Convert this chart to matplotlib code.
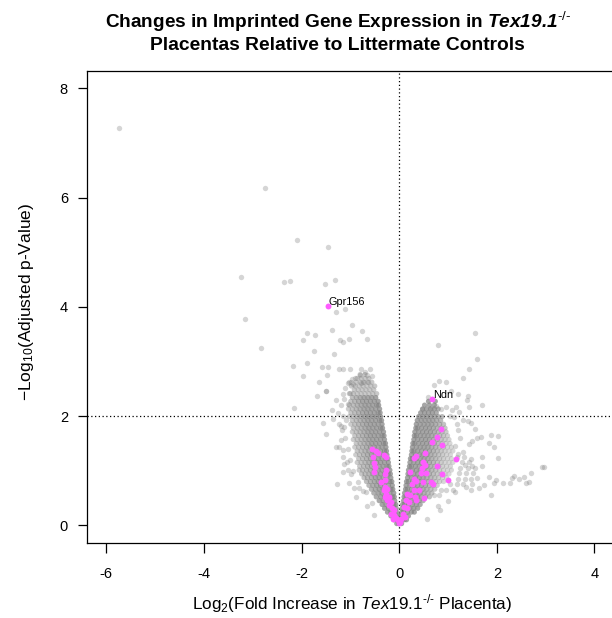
import matplotlib
matplotlib.use("Agg")
import matplotlib.pyplot as plt

plt.rcParams['font.family'] = ['Liberation Sans', 'DejaVu Sans']
plt.rcParams['mathtext.fontset'] = 'custom'
plt.rcParams['mathtext.rm'] = 'Liberation Sans'
plt.rcParams['mathtext.it'] = 'Liberation Sans:italic'
plt.rcParams['mathtext.bf'] = 'Liberation Sans:bold'
plt.rcParams['mathtext.bfit'] = 'Liberation Sans:bold:italic'

# ---------------- data ----------------
# dense V-shaped core, stored as rows: y level and the x positions seen in that row
left_rows_y = [0.03, 0.10, 0.17, 0.24, 0.31, 0.38, 0.45, 0.52, 0.59, 0.66, 0.73, 0.80,
               0.87, 0.94, 1.01, 1.08, 1.15, 1.22, 1.29, 1.36, 1.43, 1.50, 1.57, 1.64,
               1.71, 1.78, 1.85, 1.92, 1.99, 2.06, 2.13, 2.20, 2.27, 2.34, 2.41, 2.48,
               2.55, 2.62, 2.69, 2.76]
left_rows_x = [
    [-0.01, -0.05],
    [-0.02, -0.06, -0.11],
    [-0.03, -0.11, -0.17],
    [-0.05, -0.09, -0.17, -0.24],
    [-0.06, -0.14, -0.22, -0.30],
    [-0.07, -0.11, -0.19, -0.27, -0.35],
    [-0.09, -0.17, -0.25, -0.33, -0.41],
    [-0.10, -0.14, -0.22, -0.30, -0.38, -0.47],
    [-0.11, -0.19, -0.27, -0.35, -0.43, -0.52],
    [-0.13, -0.17, -0.25, -0.33, -0.41, -0.49, -0.57],
    [-0.14, -0.22, -0.30, -0.38, -0.46, -0.54, -0.62],
    [-0.15, -0.19, -0.27, -0.35, -0.43, -0.51, -0.59, -0.67],
    [-0.17, -0.25, -0.33, -0.41, -0.49, -0.57, -0.65, -0.72],
    [-0.18, -0.22, -0.30, -0.38, -0.46, -0.54, -0.62, -0.70, -0.77],
    [-0.19, -0.27, -0.35, -0.43, -0.51, -0.59, -0.67, -0.75, -0.82],
    [-0.21, -0.25, -0.33, -0.41, -0.49, -0.57, -0.65, -0.73, -0.81],
    [-0.22, -0.30, -0.38, -0.46, -0.54, -0.62, -0.70, -0.78, -0.86],
    [-0.23, -0.27, -0.35, -0.43, -0.51, -0.59, -0.67, -0.75, -0.83],
    [-0.25, -0.33, -0.41, -0.49, -0.57, -0.65, -0.73, -0.81, -0.89],
    [-0.26, -0.30, -0.38, -0.46, -0.54, -0.62, -0.70, -0.78, -0.86],
    [-0.27, -0.35, -0.43, -0.51, -0.59, -0.67, -0.75, -0.83, -0.91],
    [-0.28, -0.32, -0.40, -0.48, -0.56, -0.64, -0.72, -0.80, -0.88],
    [-0.30, -0.38, -0.46, -0.54, -0.62, -0.70, -0.78, -0.86, -0.94],
    [-0.31, -0.35, -0.43, -0.51, -0.59, -0.67, -0.75, -0.83, -0.91],
    [-0.32, -0.40, -0.48, -0.56, -0.64, -0.72, -0.80, -0.88, -0.96],
    [-0.34, -0.38, -0.46, -0.54, -0.62, -0.70, -0.78, -0.86, -0.94],
    [-0.35, -0.43, -0.51, -0.59, -0.67, -0.75, -0.83, -0.91, -0.99],
    [-0.36, -0.40, -0.48, -0.56, -0.64, -0.72, -0.80, -0.88, -0.96],
    [-0.38, -0.46, -0.54, -0.62, -0.70, -0.78, -0.86, -0.94, -1.02],
    [-0.39, -0.43, -0.51, -0.59, -0.67, -0.75, -0.83, -0.91, -0.99],
    [-0.40, -0.48, -0.56, -0.64, -0.72, -0.80, -0.88, -0.96, -1.04],
    [-0.42, -0.46, -0.54, -0.62, -0.70, -0.78, -0.86, -0.94, -1.02],
    [-0.43, -0.51, -0.59, -0.67, -0.75, -0.83, -0.91, -0.99],
    [-0.48, -0.56, -0.64, -0.72, -0.80, -0.88, -0.96],
    [-0.46, -0.54, -0.62, -0.70, -0.78, -0.86, -0.94, -1.02],
    [-0.52, -0.60, -0.68, -0.76, -0.84, -0.92],
    [-0.50, -0.58, -0.66, -0.74, -0.82, -0.90, -0.98],
    [-0.56, -0.64, -0.72, -0.80, -0.88],
    [-0.62, -0.70, -0.78, -0.86],
    [-0.70, -0.80],
]
right_rows_y = [0.03, 0.10, 0.17, 0.24, 0.31, 0.38, 0.45, 0.52, 0.59, 0.66, 0.73, 0.80,
                0.87, 0.94, 1.01, 1.08, 1.15, 1.22, 1.29, 1.36, 1.43, 1.50, 1.57, 1.64,
                1.71, 1.78, 1.85, 1.92, 1.99, 2.06, 2.13, 2.20, 2.27]
right_rows_x = [
    [0.01, 0.05],
    [0.02, 0.06, 0.11, 0.15],
    [0.03, 0.11, 0.19],
    [0.05, 0.09, 0.17, 0.25, 0.31],
    [0.06, 0.14, 0.22, 0.30, 0.38],
    [0.07, 0.11, 0.19, 0.27, 0.35, 0.43],
    [0.09, 0.17, 0.25, 0.33, 0.41, 0.49],
    [0.10, 0.14, 0.22, 0.30, 0.38, 0.46, 0.54, 0.62],
    [0.11, 0.19, 0.27, 0.35, 0.43, 0.51, 0.59, 0.67],
    [0.13, 0.17, 0.25, 0.33, 0.41, 0.49, 0.57, 0.65, 0.73],
    [0.14, 0.22, 0.30, 0.38, 0.46, 0.54, 0.62, 0.70, 0.78],
    [0.15, 0.19, 0.27, 0.35, 0.43, 0.51, 0.59, 0.67, 0.75, 0.83, 0.91],
    [0.17, 0.25, 0.33, 0.41, 0.49, 0.57, 0.65, 0.73, 0.81, 0.89, 0.97],
    [0.18, 0.22, 0.30, 0.38, 0.46, 0.54, 0.62, 0.70, 0.78, 0.86, 0.94, 1.02],
    [0.19, 0.27, 0.35, 0.43, 0.51, 0.59, 0.67, 0.75, 0.83, 0.91, 0.99, 1.07],
    [0.21, 0.25, 0.33, 0.41, 0.49, 0.57, 0.65, 0.73, 0.81, 0.89, 0.97, 1.05],
    [0.22, 0.30, 0.38, 0.46, 0.54, 0.62, 0.70, 0.78, 0.86, 0.94, 1.02, 1.10],
    [0.23, 0.27, 0.35, 0.43, 0.51, 0.59, 0.67, 0.75, 0.83, 0.91, 0.99, 1.07],
    [0.25, 0.33, 0.41, 0.49, 0.57, 0.65, 0.73, 0.81, 0.89, 0.97, 1.05],
    [0.26, 0.30, 0.38, 0.46, 0.54, 0.62, 0.70, 0.78, 0.86, 0.94, 1.02, 1.10],
    [0.27, 0.35, 0.43, 0.51, 0.59, 0.67, 0.75, 0.83, 0.91, 0.99, 1.07],
    [0.28, 0.32, 0.40, 0.48, 0.56, 0.64, 0.72, 0.80, 0.88, 0.96, 1.04],
    [0.30, 0.38, 0.46, 0.54, 0.62, 0.70, 0.78, 0.86, 0.94, 1.02],
    [0.31, 0.35, 0.43, 0.51, 0.59, 0.67, 0.75, 0.83, 0.91, 0.99],
    [0.32, 0.40, 0.48, 0.56, 0.64, 0.72, 0.80, 0.88, 0.96],
    [0.34, 0.38, 0.46, 0.54, 0.62, 0.70, 0.78, 0.86, 0.94],
    [0.35, 0.43, 0.51, 0.59, 0.67, 0.75, 0.83, 0.91],
    [0.37, 0.45, 0.53, 0.61, 0.69, 0.77, 0.85],
    [0.40, 0.48, 0.56, 0.64, 0.72, 0.80, 0.88],
    [0.44, 0.52, 0.60, 0.68, 0.76],
    [0.48, 0.56, 0.64, 0.72, 0.80],
    [0.52, 0.62, 0.72],
    [0.60, 0.74],
]

# scattered (isolated) gray genes
sparse_x = [-5.73, -2.74, -2.09, -1.45, -3.23, -2.36, -2.23, -1.51, -1.31,
            -1.29, -1.11, -3.15, -0.96, -1.37, -0.77, -1.88, -1.73, -1.98, -1.22, -1.15,
            -1.02, -0.65, -2.82, -1.75, -1.33, -2.17, -1.89, -1.96, -1.59, -1.46, -1.47,
            -1.23, -1.15, -1.01, -0.78, -0.60, -1.65, -1.49, -1.68, -2.15,
            -1.02, -0.99, -0.78, -0.63, -1.50, -1.38,
            -1.55, -1.50, -1.23, -1.17, -1.19, -1.23, -1.29, -1.16, -1.12, -1.06, -1.16,
            -0.99, -1.27, -1.02, -0.93, -0.82, -0.89, -0.66, -0.51,
            -0.55, -0.68, -0.75, -0.85, -0.95, -1.05, -1.00, -1.05, -1.15, -1.10, -1.12,
            -1.20, -1.15, -1.20, -1.05, -1.15, -1.00, -1.05, -0.95, -0.75, -0.65, -0.80,
            -0.55, -1.30, -1.25, -1.35, -1.10, -1.08, -1.12, -0.90, -0.97, -0.70,
            1.55, 0.80, 1.60, 1.42, 1.30, 0.72, 0.82, 0.95, 1.07, 1.20, 1.40, 1.38, 0.59,
            1.70, 1.43, 1.16, 1.09, 0.95, 0.46, 0.66, 0.76, 0.86, 1.23,
            1.30, 1.40, 1.47, 1.55, 1.88, 2.02, 1.67, 1.60, 1.83, 1.94, 1.43, 1.50, 2.03,
            1.70, 1.48, 1.70, 1.50, 2.93, 2.97, 2.71, 2.56, 2.45, 2.66, 2.59, 2.35, 2.32,
            2.26, 2.13, 1.98, 1.94, 1.83, 1.74, 1.60, 1.50, 1.36, 1.47, 1.64, 1.89, 0.84,
            0.56, 1.30, 1.25, 1.20, 1.35, 1.15, 1.00, 0.80,
            0.72, 0.82, 0.86, 0.96, 1.10, 1.04, 1.18, 1.30, 1.20, 1.34, 1.48, 1.22, 1.36,
            1.52, 1.25, 1.40, 1.55, 1.28, 1.42, 1.18, 1.32, 1.15, 1.18, 1.12, 1.20, 1.05]
sparse_y = [7.28, 6.18, 5.22, 5.10, 4.54, 4.46, 4.48, 4.42, 4.49,
            3.91, 3.96, 3.77, 3.66, 3.58, 3.56, 3.52, 3.48, 3.39, 3.39, 3.36,
            3.41, 3.41, 3.24, 3.19, 3.14, 2.92, 2.97, 2.73, 2.89, 2.90, 2.75,
            2.87, 2.87, 2.86, 2.86, 2.87, 2.63, 2.46, 2.37, 2.14,
            2.63, 2.63, 2.61, 2.63, 2.46, 2.11,
            1.87, 1.68, 1.85, 1.75, 1.56, 1.44, 1.43, 1.25, 1.13, 1.16, 0.98,
            0.94, 0.75, 0.78, 0.69, 0.69, 0.51, 0.35, 0.18,
            0.40, 0.60, 0.62, 0.80, 1.00, 1.02, 1.20, 1.40, 1.38, 1.60, 1.80,
            1.82, 2.00, 2.20, 2.22, 2.40, 2.42, 2.60, 2.58, 2.62, 2.75, 2.76,
            2.74, 2.30, 2.05, 1.95, 2.52, 1.92, 2.32, 2.70, 2.68, 2.80,
            3.52, 3.31, 3.04, 2.87, 2.70, 2.56, 2.64, 2.62, 2.46, 2.41, 2.37, 2.29, 2.34,
            2.21, 2.16, 2.17, 2.11, 2.17, 2.13, 2.15, 2.19, 2.12, 2.08,
            1.93, 1.91, 1.88, 1.77, 1.66, 1.63, 1.62, 1.59, 1.51, 1.44, 1.48, 1.54, 1.23,
            1.25, 1.22, 1.08, 1.08, 1.07, 1.06, 0.95, 0.89, 0.84, 0.79, 0.78, 0.90, 0.86,
            0.78, 0.77, 0.83, 0.78, 0.88, 0.73, 0.86, 0.75, 0.70, 0.64, 0.69, 0.55, 0.28,
            0.12, 1.35, 1.60, 1.75, 1.10, 0.60, 0.45, 0.35,
            0.55, 0.55, 0.65, 0.65, 0.65, 0.75, 0.75, 0.75, 0.85, 0.85, 0.85, 0.95, 0.95,
            0.95, 1.05, 1.05, 1.05, 1.15, 1.15, 1.25, 1.25, 1.45, 1.85, 1.98, 1.30, 2.00]

# imprinted genes (magenta)
imp_x = [-1.46, 0.68,
         -0.56, -0.48, -0.44, -0.31, -0.27, -0.53, -0.51, -0.50, -0.51, -0.26, -0.29,
         -0.37, -0.30, -0.29, -0.24, -0.31, -0.26, -0.29, -0.20, -0.24, -0.17, -0.20,
         -0.15, -0.10, -0.10, -0.07, -0.03, 0.00, -0.17, -0.12,
         0.85, 0.78, 0.68, 0.87, 0.53, 0.35, 0.31, 1.17, 0.48, 0.53, 0.78, 0.22, 0.46,
         0.44, 0.55, 0.87, 0.31, 0.35, 0.27, 0.48, 0.65, 0.70, 1.00, 0.40, 0.31, 0.17,
         0.22, 0.51, 0.32, 0.35, 0.14, 0.20, 0.10, 0.17, 0.07, 0.12, 0.03, 0.01]
imp_y = [4.01, 2.32,
         1.39, 1.36, 1.33, 1.28, 1.25, 1.25, 1.14, 1.07, 0.98, 1.01, 0.94,
         0.80, 0.83, 0.70, 0.67, 0.64, 0.58, 0.51, 0.52, 0.46, 0.43, 0.37,
         0.31, 0.28, 0.18, 0.14, 0.09, 0.04, 0.21, 0.12,
         1.76, 1.62, 1.53, 1.47, 1.33, 1.27, 1.24, 1.22, 1.16, 1.10, 1.08, 0.98, 1.04,
         0.96, 0.95, 0.94, 0.84, 0.81, 0.76, 0.79, 0.79, 0.76, 0.83, 0.64, 0.65, 0.58,
         0.55, 0.49, 0.52, 0.46, 0.46, 0.43, 0.34, 0.31, 0.21, 0.15, 0.12, 0.06]

label_genes = ["Gpr156", "Ndn"]
label_x = [-1.46, 0.68]
label_y = [4.01, 2.32]

x_ticks = [-6, -4, -2, 0, 2, 4]
y_ticks = [0, 2, 4, 6, 8]
fc_cut = 0
p_cut = 2

# ---------------- figure ----------------
W, H = 612, 618
fig = plt.figure(figsize=(W / 100, H / 100), dpi=100)
ax = fig.add_axes([86.7 / W, 1 - 542.7 / H, (614 - 86.7) / W, (542.7 - 71) / H])

core_x, core_y, core_c = [], [], []
for yy, xs in zip(left_rows_y + right_rows_y, left_rows_x + right_rows_x):
    for xx in xs:
        core_x.append(xx)
        core_y.append(yy)
        # shading: darker next to the inner edge of each arm, fading outward / at the top
        d = abs(xx) - yy / 5.3
        a = 0.7 if d < 0.3 else max(0.3, 0.7 - (d - 0.3) * 0.9)
        if yy > 2.35:
            a = min(a, 0.42)
        core_c.append((0.5, 0.5, 0.5, a))

ax.scatter(core_x, core_y, s=14, c=core_c, linewidths=0, zorder=2)
ax.scatter(sparse_x, sparse_y, s=15, c='#7f7f7f', alpha=0.32, linewidths=0, zorder=2)
ax.scatter(imp_x, imp_y, s=18, c='#ff5cff', linewidths=0, zorder=3)

for g, gx, gy in zip(label_genes, label_x, label_y):
    ax.text(gx + 0.02, gy + 0.07, g, fontsize=7.8, ha='left', va='center', zorder=4)

ax.axvline(fc_cut, color='black', linestyle=(0, (1, 2)), linewidth=0.9, zorder=1)
ax.axhline(p_cut, color='black', linestyle=(0, (1, 2)), linewidth=0.9, zorder=1)

ax.set_xlim(-6.4, 4.4)
ax.set_ylim(-0.32, 8.32)
ax.set_xticks(x_ticks)
ax.set_xticklabels([str(t) for t in x_ticks])
ax.set_yticks(y_ticks)
ax.set_yticklabels([str(t) for t in y_ticks])
ax.tick_params(axis='x', length=7.2, width=0.9, pad=10, labelsize=10.5)
ax.tick_params(axis='y', length=6.5, width=0.9, pad=7, labelsize=10.5)
for sp in ax.spines.values():
    sp.set_linewidth(0.9)

fig.text(352 / W, 1 - 604 / H,
         r"Log$_2$(Fold Increase in $\mathit{Tex19.1}^{\text{-/-}}$ Placenta)",
         ha='center', va='center', fontsize=12.3)
fig.text(27 / W, 1 - 302 / H, r"$-$Log$_{10}$(Adjusted p-Value)",
         ha='center', va='center', rotation=90, fontsize=12.5)

fig.text(338 / W, 1 - 28 / H,
         r"Changes in Imprinted Gene Expression in $\mathbfit{Tex19.1}^{\text{-/-}}$",
         ha='center', va='baseline', fontsize=13.7, fontweight='bold')
fig.text(337 / W, 1 - 50 / H,
         "Placentas Relative to Littermate Controls",
         ha='center', va='baseline', fontsize=13.9, fontweight='bold')

fig.savefig("out.png", dpi=100)
